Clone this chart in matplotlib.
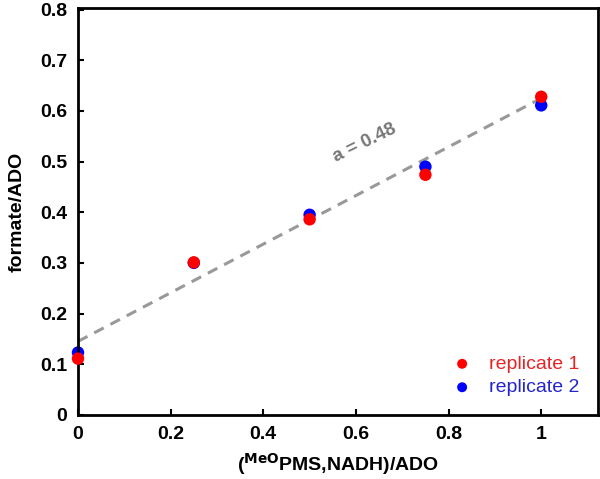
import matplotlib
matplotlib.use("Agg")
import matplotlib.pyplot as plt
import numpy as np

x_vals = [0, 0.25, 0.5, 0.75, 1.0]
rep1 = [0.111, 0.301, 0.386, 0.474, 0.628]
rep2 = [0.123, 0.300, 0.395, 0.490, 0.611]
fit_intercept = 0.145
fit_slope = 0.48
x_ticks = [0, 0.2, 0.4, 0.6, 0.8, 1]
x_tick_labels = ["0", "0.2", "0.4", "0.6", "0.8", "1"]
y_ticks = [0, 0.1, 0.2, 0.3, 0.4, 0.5, 0.6, 0.7, 0.8]
y_tick_labels = ["0", "0.1", "0.2", "0.3", "0.4", "0.5", "0.6", "0.7", "0.8"]

plt.rcParams['font.family'] = ['Liberation Sans', 'DejaVu Sans']

fig = plt.figure(figsize=(6.0, 4.79), dpi=100)
ax = fig.add_axes([0.13, 0.134, 0.867, 0.849])

fx = np.array([0.0, 1.0])
ax.plot(fx, fit_intercept + fit_slope * fx, linestyle=(0, (3.5, 2.5)), color='#999999', lw=2.2, zorder=1)

ax.scatter(x_vals, rep1, s=80, color='#ff0000', zorder=3, label='replicate 1', edgecolors='none', clip_on=False)
ax.scatter(x_vals, rep2, s=80, color='#0000ff', zorder=2.5, label='replicate 2', edgecolors='none', clip_on=False)

ax.text(0.62, 0.537, "a = 0.48", rotation=26, color='#777777', fontsize=13.5, fontweight='bold',
        ha='center', va='center')

ax.set_xlim(0, 1.123)
ax.set_ylim(0, 0.803)
ax.set_xticks(x_ticks)
ax.set_xticklabels(x_tick_labels)
ax.set_yticks(y_ticks)
ax.set_yticklabels(y_tick_labels)
ax.tick_params(direction='in', length=4.5, width=1.5, labelsize=14, pad=8)
for lab in ax.get_xticklabels() + ax.get_yticklabels():
    lab.set_fontweight('bold')
for sp in ax.spines.values():
    sp.set_linewidth(2)

ax.set_xlabel(r"($^{\mathbf{MeO}}$PMS,NADH)/ADO", fontsize=14, fontweight='bold', labelpad=6)
ax.set_ylabel("formate/ADO", fontsize=14, fontweight='bold', labelpad=10)

leg = ax.legend(loc='lower right', bbox_to_anchor=(1.0, 0.0), bbox_transform=ax.transAxes,
                frameon=False, fontsize=14, handletextpad=0.4, borderaxespad=0.55,
                labelspacing=0.3, markerscale=0.8)
for txt, c in zip(leg.get_texts(), ['#e52525', '#2525cc']):
    txt.set_color(c)

fig.savefig("out.png", dpi=100)
